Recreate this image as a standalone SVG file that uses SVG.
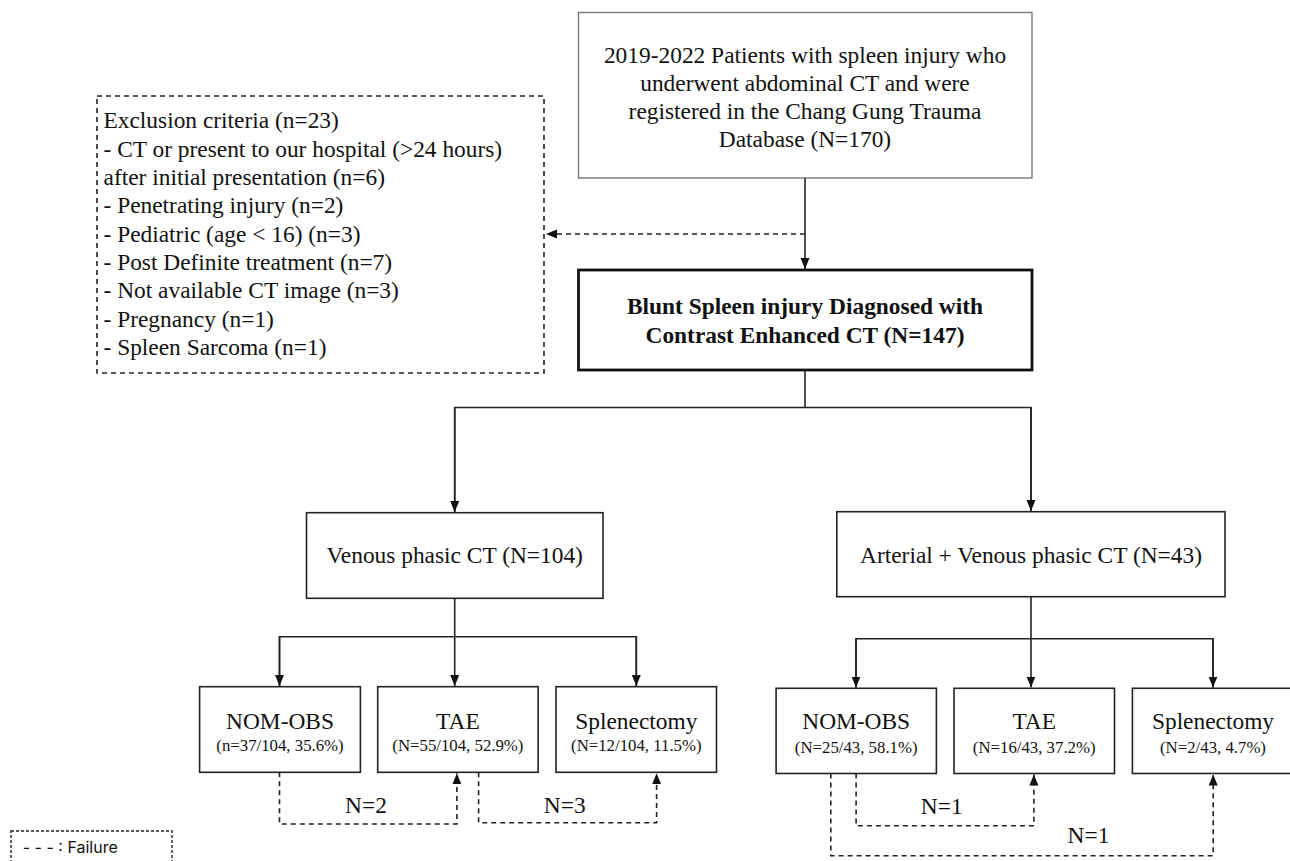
<svg xmlns="http://www.w3.org/2000/svg" width="1290" height="861" viewBox="0 0 1290 861">
<style>
.t{font-family:"Liberation Serif","Times New Roman",serif;font-size:23.4px;fill:#111}
.c{text-anchor:middle}
.b{font-weight:bold}
.s{font-family:"Liberation Serif","Times New Roman",serif;font-size:16.8px;fill:#111;text-anchor:middle}
.box{fill:#fff;stroke:#222;stroke-width:1.6}
.ln{fill:none;stroke:#222;stroke-width:1.6}
.dl{fill:none;stroke:#222;stroke-width:1.6;stroke-dasharray:5 4}
</style>
<defs>
<marker id="ah" markerUnits="userSpaceOnUse" markerWidth="12" markerHeight="12" viewBox="0 0 12 12" refX="11" refY="6" orient="auto">
<path d="M0,1.5 L11,6 L0,10.5 Z" fill="#111"/>
</marker>
</defs>
<rect width="1290" height="861" fill="#fff"/>

<g id="top">
<rect x="578.5" y="12.5" width="453.5" height="165.5" fill="#fff" stroke="#777" stroke-width="1.4"/>
<text class="t c" x="805" y="62.5">2019-2022 Patients with spleen injury who</text>
<text class="t c" x="805" y="90.5">underwent abdominal CT and were</text>
<text class="t c" x="805" y="118.5">registered in the Chang Gung Trauma</text>
<text class="t c" x="805" y="146.7">Database (N=170)</text>
</g>

<g id="exclusion">
<rect x="97" y="96" width="447" height="277" fill="none" stroke="#222" stroke-width="1.6" stroke-dasharray="5 4"/>
<text class="t" x="103.5" y="128">Exclusion criteria (n=23)</text>
<text class="t" x="103.5" y="156.5">- CT or present to our hospital (&gt;24 hours)</text>
<text class="t" x="103.5" y="185">after initial presentation (n=6)</text>
<text class="t" x="103.5" y="213.3">- Penetrating injury (n=2)</text>
<text class="t" x="103.5" y="241.7">- Pediatric (age &lt; 16) (n=3)</text>
<text class="t" x="103.5" y="270">- Post Definite treatment (n=7)</text>
<text class="t" x="103.5" y="298.3">- Not available CT image (n=3)</text>
<text class="t" x="103.5" y="326.7">- Pregnancy (n=1)</text>
<text class="t" x="103.5" y="355">- Spleen Sarcoma (n=1)</text>
</g>

<g id="blunt">
<rect x="578.5" y="270" width="453.5" height="100" fill="#fff" stroke="#111" stroke-width="2.8"/>
<text class="t c b" x="805" y="313.5">Blunt Spleen injury Diagnosed with</text>
<text class="t c b" x="805" y="342.5">Contrast Enhanced CT (N=147)</text>
</g>

<g id="venous">
<rect class="box" x="306.5" y="512.7" width="296.5" height="85.6"/>
<text class="t c" x="454.7" y="563">Venous phasic CT (N=104)</text>
</g>

<g id="arterial">
<rect class="box" x="836.8" y="511.7" width="388.2" height="85"/>
<text class="t c" x="1031" y="562.7">Arterial + Venous phasic CT (N=43)</text>
</g>

<g id="v-nom">
<rect class="box" x="199.6" y="686.7" width="160.8" height="85.6"/>
<text class="t c" x="280" y="728.5">NOM-OBS</text>
<text class="s" x="280" y="750.7">(n=37/104, 35.6%)</text>
</g>
<g id="v-tae">
<rect class="box" x="377.7" y="686.7" width="160.4" height="85.6"/>
<text class="t c" x="457.9" y="728.5">TAE</text>
<text class="s" x="457.9" y="750.7">(N=55/104, 52.9%)</text>
</g>
<g id="v-spl">
<rect class="box" x="556" y="686.7" width="160.5" height="85.6"/>
<text class="t c" x="636.3" y="728.5">Splenectomy</text>
<text class="s" x="636.3" y="750.7">(N=12/104, 11.5%)</text>
</g>

<g id="a-nom">
<rect class="box" x="776.1" y="688.3" width="160.3" height="85.2"/>
<text class="t c" x="856.2" y="729.3">NOM-OBS</text>
<text class="s" x="856.2" y="752.7">(N=25/43, 58.1%)</text>
</g>
<g id="a-tae">
<rect class="box" x="954" y="688.3" width="160.5" height="85.2"/>
<text class="t c" x="1034.2" y="729.3">TAE</text>
<text class="s" x="1034.2" y="752.7">(N=16/43, 37.2%)</text>
</g>
<g id="a-spl">
<rect class="box" x="1132.4" y="688.3" width="161" height="85.2"/>
<text class="t c" x="1213" y="729.3">Splenectomy</text>
<text class="s" x="1213" y="752.7">(N=2/43, 4.7%)</text>
</g>

<g id="legend">
<rect x="11" y="831" width="161" height="50" fill="none" stroke="#222" stroke-width="1.4" stroke-dasharray="3 2"/>
<text x="22.7" y="852.7" style="font-family:Inter,'Liberation Sans',sans-serif;font-size:16px;fill:#111">- - - : Failure</text>
</g>

<g id="connectors">
<path class="ln" d="M805,178 V269" marker-end="url(#ah)"/>
<path class="dl" d="M805,234 H546" marker-end="url(#ah)"/>
<path class="ln" d="M805,370 V407.5"/>
<path class="ln" d="M454.7,512 V407.5 H1031 V511"/>
<path class="ln" d="M454.7,407.5 V512" marker-end="url(#ah)"/>
<path class="ln" d="M1031,407.5 V511" marker-end="url(#ah)"/>

<path class="ln" d="M454.7,598.3 V636.7"/>
<path class="ln" d="M279.5,686 V636.7 H636.3 V686"/>
<path class="ln" d="M279.5,636.7 V686" marker-end="url(#ah)"/>
<path class="ln" d="M454.7,636.7 V686" marker-end="url(#ah)"/>
<path class="ln" d="M636.3,636.7 V686" marker-end="url(#ah)"/>

<path class="ln" d="M1031,596.7 V638.7"/>
<path class="ln" d="M856,687.5 V638.7 H1213 V687.5"/>
<path class="ln" d="M856,638.7 V687.5" marker-end="url(#ah)"/>
<path class="ln" d="M1031,638.7 V687.5" marker-end="url(#ah)"/>
<path class="ln" d="M1213,638.7 V687.5" marker-end="url(#ah)"/>

<path class="dl" d="M279.5,772.3 V824 H456.9 V773.3" marker-end="url(#ah)"/>
<path class="dl" d="M478.6,772.3 V822.7 H656.6 V773.3" marker-end="url(#ah)"/>
<path class="dl" d="M856.1,773.5 V825.7 H1033.9 V774.5" marker-end="url(#ah)"/>
<path class="dl" d="M830.8,773.5 V855.7 H1213.2 V774.5" marker-end="url(#ah)"/>

<text class="t c" x="366" y="813">N=2</text>
<text class="t c" x="564.7" y="813">N=3</text>
<text class="t c" x="941.7" y="814.3">N=1</text>
<text class="t c" x="1088.5" y="843.3">N=1</text>
</g>
</svg>
